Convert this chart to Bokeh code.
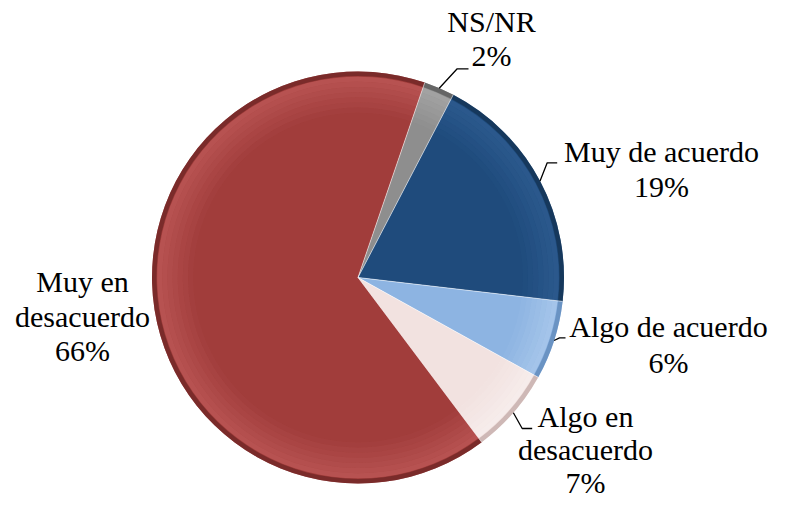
import numpy as np
from bokeh.plotting import figure
from bokeh.models import Range1d, ColumnDataSource
from bokeh.embed import file_html
from bokeh.resources import INLINE
from bokeh.core.properties import value

# ---- data ----
categories = ["NS/NR", "Muy de acuerdo", "Algo de acuerdo", "Algo en desacuerdo", "Muy en desacuerdo"]
shares = [2.4, 19.2, 6.2, 6.7, 65.5]
label_names = ["NS/NR", "Muy de acuerdo", "Algo de acuerdo", "Algo en\ndesacuerdo", "Muy en\ndesacuerdo"]

# ---- styles ----
base_colors = ["#8E8E8E", "#1F4B7C", "#8DB4E2", "#F2E2E0", "#A13D3B"]
light_colors = ["#C8C8C8", "#4273AD", "#D0E3F8", "#FFFFFF", "#E07C7B"]
dark_colors = ["#555555", "#12304F", "#5B84B6", "#BFA6A4", "#6A2423"]

# ---- layout (page pixel coordinates) ----
CX, CY, R = 357.5, 277.0, 206.0
START_DEG = 71.1
TEXT_SHIFT = -12          # renderer places alphabetic baseline ~12px low
label_cx = [491, 661, 668, 585, 82]
label_y0 = [33, 163, 338, 428, 293]
line_gap = [34, 35, 36, 33, 34.5]
elbow = [(456.7, 68.3), (546.7, 162.3), (559.0, 337.3), (521.7, 428.0), None]
tail = [11.3, 10.0, 6.0, 10.0, 0]

W, H = 771, 503
p = figure(width=W, height=H, output_backend="svg", toolbar_location=None,
           x_range=Range1d(0, W), y_range=Range1d(-H, 0),
           min_border=0)
p.axis.visible = False
p.grid.visible = False
p.outline_line_color = None
p.background_fill_color = "white"
p.border_fill_color = "white"

total = float(sum(shares))
ang = np.array(shares) / total * 2 * np.pi
cum = np.concatenate([[0.0], np.cumsum(ang)[:-1]])
end_a = np.deg2rad(START_DEG) - cum
start_a = end_a - ang
mid = (start_a + end_a) / 2

src = ColumnDataSource(dict(x=[CX] * len(shares), y=[-CY] * len(shares),
                            start=start_a, end=end_a,
                            base=base_colors, light=light_colors, dark=dark_colors))

p.wedge(x="x", y="y", radius=R, start_angle="start", end_angle="end",
        fill_color="base", line_color=None, source=src)
bands = np.linspace(0.80, 0.975, 8)
for k in range(len(bands) - 1):
    p.annular_wedge(x="x", y="y", inner_radius=R * bands[k], outer_radius=R * bands[k + 1],
                    start_angle="start", end_angle="end",
                    fill_color="light", fill_alpha=0.05 + 0.05 * k, line_color=None, source=src)
p.annular_wedge(x="x", y="y", inner_radius=R * 0.978, outer_radius=R,
                start_angle="start", end_angle="end",
                fill_color="dark", fill_alpha=0.7, line_color=None, source=src)
sx = [[CX, CX + R * np.cos(a)] for a in end_a]
sy = [[-CY, -CY + R * np.sin(a)] for a in end_a]
p.multi_line(xs=sx, ys=sy, line_color="white", line_alpha=0.55, line_width=1)

lx, ly = [], []
for i, e in enumerate(elbow):
    if e is None:
        continue
    x0 = CX + R * np.cos(mid[i])
    y0 = CY - R * np.sin(mid[i])
    lx.append([x0, e[0], e[0] + tail[i]])
    ly.append([-y0, -e[1], -e[1]])
p.multi_line(xs=lx, ys=ly, line_color="black", line_width=1.3)

tx, ty, tt = [], [], []
for i, name in enumerate(label_names):
    pct = f"{int(shares[i] / total * 100 + 0.5)}%"
    lines = name.split("\n") + [pct]
    for k, ln in enumerate(lines):
        tx.append(label_cx[i])
        ty.append(-(label_y0[i] + k * line_gap[i] + TEXT_SHIFT))
        tt.append(ln)
p.text(x=tx, y=ty, text=tt, text_font=value("Liberation Serif"),
       text_font_size="30px", text_align="center", text_baseline="alphabetic",
       text_color="black")

open("out.html", "w").write(file_html(p, INLINE))
